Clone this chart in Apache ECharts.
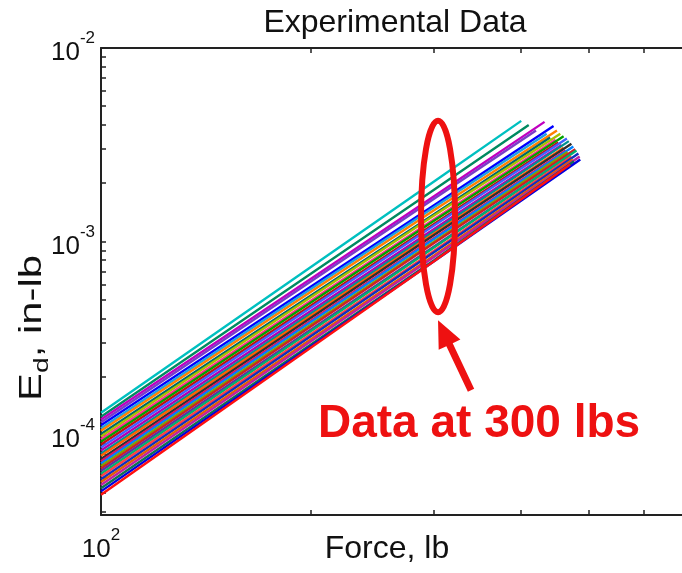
<!DOCTYPE html>
<html><head><meta charset="utf-8">
<script src="https://cdn.jsdelivr.net/npm/echarts@6/dist/echarts.min.js"></script>
<style>html,body{margin:0;padding:0;background:#fff}#c{width:682px;height:573px}</style>
</head><body><div id="c"></div>
<script>
// ---- data ----
const titleText = 'Experimental Data';
const xAxisName = 'Force, lb';
const yAxisNameMain = 'E';
const yAxisNameSub = 'd';
const yAxisNameRest = ', in-lb';
const annotationText = 'Data at 300 lbs';

const forceStart = 100;
const forceMid = 300;
const forceEnd = [400, 410, 432, 420, 445, 435, 450, 440, 455, 448, 460, 452, 465, 457, 468,
                  460, 472, 463, 475, 466, 478, 470, 480, 472, 483, 474, 485, 476, 486, 470];
const energyStart = [13.0e-5, 12.4e-5, 12.0e-5, 11.6e-5, 11.2e-5, 10.8e-5, 10.5e-5, 10.1e-5, 9.8e-5, 9.5e-5,
                     9.2e-5, 8.9e-5, 8.6e-5, 8.3e-5, 8.0e-5, 7.8e-5, 7.5e-5, 7.3e-5, 7.1e-5, 6.9e-5,
                     6.7e-5, 6.5e-5, 6.3e-5, 6.1e-5, 5.9e-5, 5.7e-5, 5.5e-5, 5.3e-5, 5.1e-5, 4.9e-5];
const energyMid = [20.4e-4, 18.5e-4, 17.1e-4, 16.6e-4, 15.4e-4, 15.0e-4, 14.5e-4, 13.8e-4, 13.6e-4, 13.0e-4,
                   12.8e-4, 12.3e-4, 12.1e-4, 11.6e-4, 11.3e-4, 11.0e-4, 10.8e-4, 10.4e-4, 10.3e-4, 9.95e-4,
                   9.8e-4, 9.4e-4, 9.3e-4, 8.95e-4, 8.8e-4, 8.45e-4, 8.3e-4, 8.0e-4, 7.9e-4, 7.9e-4];
const energyEnd = [4.2e-3, 4.0e-3, 4.15e-3, 3.75e-3, 3.95e-3, 3.6e-3, 3.75e-3, 3.45e-3, 3.6e-3, 3.35e-3,
                   3.5e-3, 3.25e-3, 3.4e-3, 3.15e-3, 3.3e-3, 3.05e-3, 3.2e-3, 2.95e-3, 3.1e-3, 2.9e-3,
                   3.0e-3, 2.8e-3, 2.95e-3, 2.75e-3, 2.85e-3, 2.65e-3, 2.75e-3, 2.6e-3, 2.65e-3, 2.5e-3];
const lineColors = ['#00c0c0', '#008a60', '#c000c0', '#7a3cc8', '#0000ff', '#20a0e0', '#ff8000', '#006868',
                    '#a8c000', '#ff3090', '#00a000', '#c01010', '#4060ff', '#b000b0', '#009090', '#ff6000',
                    '#2f2f2f', '#e01060', '#0080ff', '#80a000', '#d02020', '#6030a0', '#00b070', '#ff4040',
                    '#1030c0', '#e06000', '#c020a0', '#107050', '#0000e0', '#ff1010'];

const xRange = [100, 1000];
const yRange = [3.85e-5, 1e-2];
const xTickValues = [100, 200, 300, 400, 500, 600, 700, 800, 900, 1000];
const xLabelValues = [100];
const xLabelExponents = ['2'];
const yTickValues = [4e-5, 5e-5, 6e-5, 7e-5, 8e-5, 9e-5, 1e-4, 2e-4, 3e-4, 4e-4, 5e-4, 6e-4, 7e-4, 8e-4, 9e-4,
                     1e-3, 2e-3, 3e-3, 4e-3, 5e-3, 6e-3, 7e-3, 8e-3, 9e-3, 1e-2];
const yLabelValues = [1e-4, 1e-3, 1e-2];
const yLabelExponents = ['-4', '-3', '-2'];
const ellipseEnergy = [4.3e-4, 4.2e-3];

(function () {
const chart = echarts.init(document.getElementById('c'), null, {renderer: 'canvas'});
const FONT = 'Liberation Sans, Arial, sans-serif';

function makeFormatter(vals, exps) {
  return function (v) {
    for (let i = 0; i < vals.length; i++) {
      if (Math.abs(Math.log10(vals[i]) - Math.log10(v)) < 1e-6) return '{b|10}{s|' + exps[i] + '}';
    }
    return '';
  };
}
const richLabel = {
  b: {fontSize: 26, fontFamily: FONT, color: '#111', lineHeight: 36, verticalAlign: 'bottom'},
  s: {fontSize: 17, fontFamily: FONT, color: '#111', lineHeight: 36, verticalAlign: 'top'}
};

const series = forceEnd.map((fe, i) => ({
  type: 'line',
  name: 'run ' + (i + 1),
  showSymbol: false,
  animation: false,
  lineStyle: {width: 2.4, color: lineColors[i % lineColors.length]},
  data: [[forceStart, energyStart[i]], [forceMid, energyMid[i]], [fe, energyEnd[i]]]
}));

const axisLine = {show: true, lineStyle: {color: '#222', width: 2}};
const tick = (vals) => ({show: true, inside: true, length: 5, customValues: vals, lineStyle: {color: '#222', width: 1.5}});

chart.setOption({
  backgroundColor: '#fff',
  animation: false,
  title: {text: titleText, left: 390, top: 2, textAlign: 'center',
          textStyle: {fontFamily: FONT, fontSize: 32, fontWeight: 'normal', color: '#111'}},
  grid: {left: 101, top: 48, right: -117, bottom: 58, containLabel: false, outerBoundsMode: 'none'},
  xAxis: [
    {type: 'log', min: xRange[0], max: xRange[1], position: 'bottom',
     name: xAxisName, nameLocation: 'middle', nameGap: 18, nameMoveOverlap: false,
     nameTextStyle: {fontFamily: FONT, fontSize: 32, color: '#111', padding: [0, 126, 0, 0]},
     axisLine: axisLine, axisTick: tick(xTickValues), splitLine: {show: false},
     axisLabel: {show: true, customValues: xLabelValues, formatter: makeFormatter(xLabelValues, xLabelExponents),
                 rich: richLabel, margin: 12, showMinLabel: true}},
    {type: 'log', min: xRange[0], max: xRange[1], position: 'top',
     axisLine: axisLine, axisTick: tick(xTickValues), axisLabel: {show: false}, splitLine: {show: false}}
  ],
  yAxis: [
    {type: 'log', min: yRange[0], max: yRange[1], position: 'left',
     axisLine: axisLine, axisTick: tick(yTickValues), splitLine: {show: false},
     axisLabel: {show: true, customValues: yLabelValues, formatter: makeFormatter(yLabelValues, yLabelExponents),
                 rich: richLabel, margin: 6, showMinLabel: true, showMaxLabel: true}},
    {type: 'log', min: yRange[0], max: yRange[1], position: 'right',
     axisLine: axisLine, axisTick: tick(yTickValues), axisLabel: {show: false}, splitLine: {show: false}}
  ],
  series: series
});

// ---- annotation: ellipse at 300 lbs, arrow and text ----
const pTop = chart.convertToPixel({gridIndex: 0}, [forceMid, ellipseEnergy[1]]);
const pBot = chart.convertToPixel({gridIndex: 0}, [forceMid, ellipseEnergy[0]]);
const cx = pTop[0] + 4, cy = (pTop[1] + pBot[1]) / 2, ry = (pBot[1] - pTop[1]) / 2;
const tip = [cx, pBot[1] + 8];
const tail = [cx + 33, pBot[1] + 78];
const dx = tail[0] - tip[0], dy = tail[1] - tip[1], L = Math.hypot(dx, dy);
const ux = dx / L, uy = dy / L, px = -uy, py = ux;
const headLen = 27, headW = 12, shaftW = 3.5;
const hb = [tip[0] + ux * headLen, tip[1] + uy * headLen];
const arrowPts = [
  tip,
  [hb[0] + px * headW, hb[1] + py * headW],
  [hb[0] + px * shaftW, hb[1] + py * shaftW],
  [tail[0] + px * shaftW, tail[1] + py * shaftW],
  [tail[0] - px * shaftW, tail[1] - py * shaftW],
  [hb[0] - px * shaftW, hb[1] - py * shaftW],
  [hb[0] - px * headW, hb[1] - py * headW]
];
chart.setOption({
  graphic: [
    {type: 'ellipse', shape: {cx: cx, cy: cy, rx: 17, ry: ry}, z: 100,
     style: {fill: 'none', stroke: '#ee1111', lineWidth: 6}},
    {type: 'polygon', shape: {points: arrowPts}, z: 100, style: {fill: '#ee1111'}},
    {type: 'text', left: 318, top: 401, z: 100,
     style: {text: annotationText, fill: '#ee1111', font: 'bold 46px ' + FONT}},
    // y-axis title, rotated
    {type: 'text', x: 32, y: 328, rotation: Math.PI / 2, scaleX: 1.35, z: 100,
     style: {text: '{e|' + yAxisNameMain + '}{d|' + yAxisNameSub + '}{e|' + yAxisNameRest + '}',
             align: 'center', verticalAlign: 'middle',
             rich: {e: {fontFamily: FONT, fontSize: 31, fill: '#111', lineHeight: 42, verticalAlign: 'middle'},
                    d: {fontFamily: FONT, fontSize: 21, fill: '#111', lineHeight: 42, verticalAlign: 'bottom'}}}}
  ]
});
})();
</script>
</body></html>
